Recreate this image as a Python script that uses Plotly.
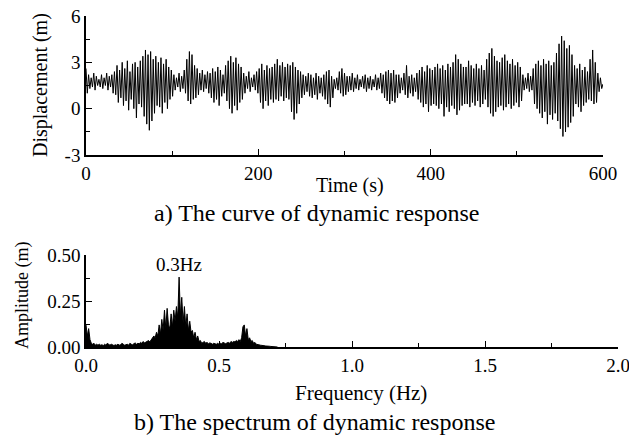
import plotly.graph_objects as go

# ---------------- data ----------------
# Time response: upper (peak) and lower (trough) value of each ~3 s cycle, t = 0..597 s
peaks = [
    2.6, 2.2, 2.0, 2.3, 2.1, 1.9, 2.2, 2.0, 2.3, 2.1,
    2.2, 2.4,
    2.8, 2.5, 3.0, 2.6, 3.1, 2.4, 2.9, 3.0, 2.7, 3.1,
    3.4, 3.8, 3.5, 3.7, 3.2, 3.4,
    3.0, 3.3, 2.9, 3.2, 2.7, 2.5,
    2.2, 2.0, 2.3, 2.1, 2.5,
    3.2, 3.7, 3.5,
    2.8, 2.6,
    2.3, 2.5, 2.2, 2.4,
    2.3, 2.6, 2.4, 2.7, 2.5, 2.2,
    2.8, 3.1, 3.4, 3.0, 3.3, 2.9, 2.7,
    2.3, 2.1, 2.4, 2.0, 2.2, 2.4,
    2.6, 2.9, 2.5, 2.8, 2.6, 2.7,
    2.9, 3.2, 2.8, 3.0, 2.7, 2.9,
    2.8, 3.0, 2.7, 2.5, 2.4,
    2.2, 2.1, 2.3,
    2.2, 2.0, 2.3, 2.1, 2.0, 2.2, 2.4, 2.5, 2.1,
    1.9, 2.0,
    2.4, 2.6, 2.3, 2.1,
    2.1, 2.3, 2.0, 2.2, 1.9, 2.1, 2.2, 2.0, 2.1, 1.9, 2.2, 2.0, 2.3,
    2.2, 2.4, 2.5, 2.3, 2.5, 2.2,
    2.2, 2.0, 2.3, 2.8, 2.1, 2.2, 2.0, 2.3,
    2.5, 2.7, 2.4, 2.8, 2.6, 2.5,
    2.7, 2.9, 2.6, 2.8, 2.5, 2.9, 2.7,
    3.0, 3.5, 3.2, 2.9, 2.7,
    2.7, 3.1, 2.8, 2.6, 2.9, 2.6, 2.8, 2.5,
    3.2, 3.6, 3.9, 3.4, 3.1,
    3.0, 3.3, 3.5, 3.1, 2.9, 3.2, 2.8, 3.0, 2.7,
    2.2, 2.0, 2.3, 2.1,
    2.6, 2.9, 3.1, 2.8, 3.2, 2.9, 3.1, 2.8, 3.0,
    3.6, 4.2, 4.7, 4.4, 3.9, 4.1, 3.5,
    2.8, 2.6, 2.9, 2.5, 2.7, 2.4,
    3.2, 3.8, 3.0, 2.3, 2.0,
]
troughs = [
    1.0, 1.3, 1.4, 1.2, 1.5, 1.4, 1.3, 1.5, 1.2, 1.4,
    1.0, 0.9,
    0.4, 0.7, 0.2, 0.5, -0.1, 0.6, 0.0, -0.6, 0.3, 0.1,
    -0.5, -1.0, -1.4, -0.8, -0.3, 0.2,
    0.1, -0.3, 0.4, 0.0, 0.6, 0.8,
    1.2, 1.4, 1.1, 1.3, 1.0,
    0.5, 0.3, 0.6,
    0.7, 0.9,
    1.2, 1.1, 1.3, 1.0,
    0.7, 0.4, 0.6, 0.2, 0.8, 1.0,
    0.5, 0.0, -0.3, 0.2, -0.1, 0.4, 0.6,
    1.0, 1.3, 1.1, 1.4, 1.2, 1.0,
    0.4, 0.0, 0.5, 0.2, 0.6, 0.4,
    0.6, 0.5, 0.8, 0.5, 0.7, 0.6,
    -0.2, -0.7, -0.3, 0.3, 0.7,
    0.9, 1.1, 0.8,
    0.7, 0.9, 0.6, 1.0, 0.8, 0.6, 0.3, 0.1, 0.7,
    1.3, 1.2,
    1.0, 0.8, 0.9, 1.1,
    1.2, 1.1, 1.3, 1.2, 1.4, 1.3, 1.1, 1.3, 1.2, 1.4, 1.2, 1.3, 1.0,
    0.7, 0.5, 0.3, 0.5, 0.4, 0.7,
    1.0, 1.2, 0.9, 0.7, 1.0, 0.8, 1.1, 0.6,
    0.4, 0.1, 0.3, -0.2, 0.2, 0.3,
    0.2, 0.0, 0.3, -0.5, 0.1, -0.2, 0.2,
    0.0, -0.4, -0.1, 0.2, 0.3,
    0.3, 0.1, 0.4, 0.2, 0.5, 0.1, 0.3, 0.6,
    0.1, -0.3, -0.5, -0.2, 0.1,
    0.2, -0.1, 0.1, 0.3, 0.0, 0.2, 0.4, 0.1, 0.5,
    1.2, 1.3, 1.1, 1.2,
    0.3, 0.0, -0.3, -0.6, -0.2, -1.0, -0.4, -0.7, -0.3,
    -0.8, -1.3, -1.8, -1.5, -1.2, -0.9, -0.5,
    0.3, 0.1, -0.2, 0.2, 0.4, 0.6,
    0.5, 0.3, 0.4, 1.1, 1.3,
]
end_value = 1.6
half_period = 1.5  # s between a peak and the following trough

# Amplitude spectrum, 0.005 Hz spacing from 0 Hz
spec_step = 0.005
spectrum = [
    0.12, 0.06, 0.10, 0.04, 0.02, 0.015, 0.02, 0.01, 0.015, 0.01,
    0.015, 0.01, 0.012, 0.008, 0.015, 0.01, 0.02, 0.012, 0.01, 0.015,
    0.01, 0.008, 0.012, 0.01, 0.015, 0.01, 0.012, 0.02, 0.015, 0.01,
    0.012, 0.015, 0.01, 0.02, 0.015, 0.012, 0.018, 0.022, 0.015, 0.02,
    0.018, 0.025, 0.02, 0.03, 0.022, 0.025, 0.03, 0.035, 0.028, 0.04,
    0.045, 0.06, 0.05, 0.08, 0.06, 0.12, 0.07, 0.15, 0.09, 0.20,
    0.10, 0.21, 0.12, 0.10, 0.18, 0.11, 0.20, 0.14, 0.22, 0.16,
    0.38, 0.17, 0.27, 0.13, 0.22, 0.11, 0.18, 0.09, 0.14, 0.08,
    0.09, 0.05, 0.08, 0.04, 0.06, 0.03, 0.035, 0.02, 0.025, 0.03,
    0.02, 0.025, 0.018, 0.022, 0.02, 0.015, 0.02, 0.018, 0.015, 0.02,
    0.015, 0.02, 0.018, 0.025, 0.02, 0.018, 0.022, 0.025, 0.02, 0.03,
    0.025, 0.03, 0.028, 0.035, 0.03, 0.04, 0.03, 0.05, 0.11, 0.12,
    0.06, 0.10, 0.04, 0.05, 0.03, 0.035, 0.02, 0.025, 0.015, 0.015,
    0.012, 0.01, 0.008, 0.01, 0.007, 0.006, 0.005, 0.006, 0.004, 0.003,
    0.003, 0.002, 0.002, 0.001, 0.0,
]

time_ticks = [0, 200, 400, 600]
disp_ticks = [-3, 0, 3, 6]
freq_ticks = [0.0, 0.5, 1.0, 1.5, 2.0]
amp_ticks = [0.0, 0.25, 0.5]

# ---------------- assemble series ----------------
disp = []
for p, q in zip(peaks, troughs):
    disp.append(p)
    disp.append(q)
disp.append(end_value)
time = [i * half_period for i in range(len(disp))]
freq = [i * spec_step for i in range(len(spectrum))]

W, H = 629, 436
FONT = "Liberation Serif, Times New Roman, serif"

fig = go.Figure()
fig.add_trace(go.Scatter(x=time, y=disp, mode="lines",
                         line=dict(color="black", width=1),
                         xaxis="x", yaxis="y", showlegend=False, hoverinfo="skip"))
fig.add_trace(go.Scatter(x=freq, y=spectrum, mode="lines", fill="tozeroy",
                         fillcolor="black", line=dict(color="black", width=1),
                         xaxis="x2", yaxis="y2", showlegend=False, hoverinfo="skip"))

def px(x):
    return x / W

def py(y):
    return 1 - y / H

axis_common = dict(showline=True, linecolor="black", linewidth=1.6, showgrid=False,
                   zeroline=False, ticks="inside", ticklen=6, tickwidth=1.4,
                   automargin=False, ticklabeloverflow="allow",
                   tickcolor="black", tickfont=dict(family=FONT, size=19, color="black"))

fig.update_layout(
    template="none",
    width=W, height=H, margin=dict(l=0, r=0, t=0, b=0, pad=0),
    paper_bgcolor="white", plot_bgcolor="white",
    xaxis=dict(domain=[px(86), px(603)], range=[0, 600], anchor="y",
               tickvals=time_ticks, ticktext=[str(v) for v in time_ticks],
               minor=dict(ticks="inside", ticklen=4, tickvals=[100, 300, 500], tickcolor="black"),
               **axis_common),
    yaxis=dict(domain=[py(155), py(16)], range=[-3, 6], anchor="x",
               tickvals=disp_ticks, ticktext=[str(v) for v in disp_ticks],
               minor=dict(ticks="inside", ticklen=4, tickvals=[-1.5, 1.5, 4.5], tickcolor="black"),
               **axis_common),
    xaxis2=dict(domain=[px(86), px(618)], range=[0, 2], anchor="y2",
                tickvals=freq_ticks, ticktext=["%.1f" % v for v in freq_ticks],
                minor=dict(ticks="inside", ticklen=4, tickvals=[0.25, 0.75, 1.25, 1.75], tickcolor="black"),
                **axis_common),
    yaxis2=dict(domain=[py(347), py(255)], range=[0, 0.5], anchor="x2",
                tickvals=amp_ticks, ticktext=["%.2f" % v for v in amp_ticks],
                minor=dict(ticks="inside", ticklen=4, tickvals=[0.125, 0.375], tickcolor="black"),
                **axis_common),
)

def note(text, x, y, size, angle=0):
    fig.add_annotation(text=text, x=x, y=y, xref="paper", yref="paper",
                       showarrow=False, textangle=angle, xanchor="center", yanchor="middle",
                       font=dict(family=FONT, size=size, color="black"))

note("Displacement (m)", px(40), py(85), 20, -90)
note("Time (s)", px(350), py(185), 20)
note("a) The curve of dynamic response", px(317), py(213), 24)
note("Amplitude (m)", px(22), py(296), 18, -90)
note("Frequency (Hz)", px(361), py(393), 21)
note("b) The spectrum of dynamic response", px(314), py(422), 24)
fig.add_annotation(text="0.3Hz", x=0.35, y=0.45, xref="x2", yref="y2", showarrow=False,
                   font=dict(family=FONT, size=19, color="black"))

fig.write_html("out.html", config={"displayModeBar": False},
               post_script="document.body.style.margin='0px';document.body.style.overflow='hidden';")
